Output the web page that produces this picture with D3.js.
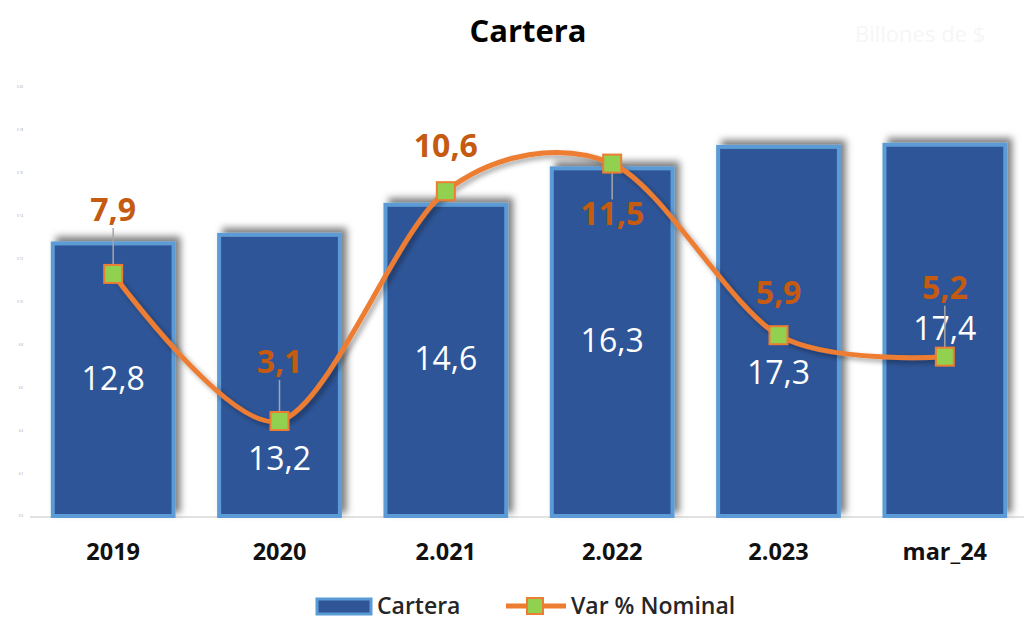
<!DOCTYPE html>
<html>
<head>
<meta charset="utf-8">
<script src="https://cdn.jsdelivr.net/npm/d3@7"></script>
<style>
  body { margin: 0; background: #fff; }
  text { font-family: "Open Sans", "DejaVu Sans", sans-serif; }
</style>
</head>
<body>
<div id="chart"></div>
<script>
// data
const categories = ["2019", "2020", "2.021", "2.022", "2.023", "mar_24"];
const cartera = [12.8, 13.2, 14.6, 16.3, 17.3, 17.4];
const varNominal = [7.9, 3.1, 10.6, 11.5, 5.9, 5.2];
const leftTicks = [0, 2, 4, 6, 8, 10, 12, 14, 16, 18, 20];

// label layout: offset of the orange labels from their marker,
// and which bar labels were pushed under the marker
const varLabelDy = [-64, -59, -45, 50, -42, -69];
const barLabelUnder = [false, true, false, false, true, false];

const width = 1024, height = 622;
const margin = {top: 87, right: -4, bottom: 106, left: 30};

const svg = d3.select("#chart").append("svg")
    .attr("width", width).attr("height", height);

const defs = svg.append("defs");
const shadow = defs.append("filter").attr("id", "shadow")
    .attr("x", "-20%").attr("y", "-20%").attr("width", "140%").attr("height", "140%");
shadow.append("feDropShadow")
    .attr("dx", 5).attr("dy", -5).attr("stdDeviation", 3.5)
    .attr("flood-color", "#000").attr("flood-opacity", 0.5);
const lineShadow = defs.append("filter").attr("id", "lineShadow")
    .attr("x", "-10%").attr("y", "-20%").attr("width", "120%").attr("height", "140%");
lineShadow.append("feDropShadow")
    .attr("dx", 3).attr("dy", 3).attr("stdDeviation", 2.5)
    .attr("flood-color", "#000").attr("flood-opacity", 0.35);

const x = d3.scaleBand()
    .domain(categories)
    .range([margin.left, width - margin.right])
    .paddingInner(0.25).paddingOuter(0.125);

const y = d3.scaleLinear().domain([0, 20]).range([height - margin.bottom, margin.top]);
const y2 = d3.scaleLinear().domain([0, 14]).range([height - margin.bottom, margin.top]);

// title
svg.append("text")
    .attr("x", 528).attr("y", 42)
    .attr("text-anchor", "middle")
    .style("font-size", "31px").style("font-weight", "bold").style("fill", "#000")
    .text("Cartera");
svg.append("text")
    .attr("x", 855).attr("y", 42)
    .style("font-size", "22px").style("fill", "#f6f6f6")
    .text("Billones de $");

// faint left axis
const yAxis = svg.append("g")
    .attr("transform", `translate(${margin.left - 4},0)`)
    .call(d3.axisLeft(y).tickValues(leftTicks).tickSize(0).tickFormat(d => "$ " + d));
yAxis.select(".domain").remove();
yAxis.selectAll("text").style("font-size", "3px").style("fill", "#999");

// baseline
svg.append("line")
    .attr("x1", margin.left).attr("x2", width)
    .attr("y1", y(0) + 1).attr("y2", y(0) + 1)
    .style("stroke", "#d9d9d9").style("stroke-width", 1.5);

// bars
svg.append("g").selectAll("rect")
    .data(cartera)
    .join("rect")
    .attr("x", (d, i) => x(categories[i]) + 2)
    .attr("y", d => y(d) + 2)
    .attr("width", x.bandwidth() - 4)
    .attr("height", d => y(0) - y(d) - 2)
    .style("fill", "#2F5597")
    .style("stroke", "#5B9BD5")
    .style("stroke-width", 4)
    .attr("filter", "url(#shadow)");

// x labels
svg.append("g").selectAll("text")
    .data(categories)
    .join("text")
    .attr("x", d => x(d) + x.bandwidth() / 2)
    .attr("y", 560)
    .attr("text-anchor", "middle")
    .style("font-size", "23.5px").style("font-weight", "bold").style("fill", "#111")
    .text(d => d);

const cx = i => x(categories[i]) + x.bandwidth() / 2;
const fmt = v => d3.format(".1f")(v).replace(".", ",");

// bar value labels
svg.append("g").selectAll("text")
    .data(cartera)
    .join("text")
    .attr("x", (d, i) => cx(i))
    .attr("y", (d, i) => {
        const c = barLabelUnder[i] ? y2(varNominal[i]) + 38 : (y(0) + y(d)) / 2;
        return c + 11;
    })
    .attr("text-anchor", "middle")
    .style("font-size", "32px").style("fill", "#fff")
    .text(d => fmt(d));

// leader lines (only for labels placed far from their marker)
const leaders = varNominal.map((v, i) => ({v, i, dy: varLabelDy[i]}))
    .filter(d => Math.abs(d.dy) > 48);
svg.append("g").selectAll("line")
    .data(leaders)
    .join("line")
    .attr("x1", d => cx(d.i)).attr("x2", d => cx(d.i))
    .attr("y1", d => y2(d.v) + (d.dy < 0 ? d.dy + 18 : d.dy - 14))
    .attr("y2", d => y2(d.v))
    .style("stroke", "#a6a6a6").style("stroke-width", 1.5);

// line
const line = d3.line()
    .x((d, i) => cx(i))
    .y(d => y2(d))
    .curve(d3.curveCardinal.tension(0.1));
svg.append("path")
    .datum(varNominal)
    .attr("d", line)
    .style("fill", "none")
    .style("stroke", "#ED7D31")
    .style("stroke-width", 5)
    .attr("filter", "url(#lineShadow)");

// markers
svg.append("g").selectAll("rect")
    .data(varNominal)
    .join("rect")
    .attr("x", (d, i) => cx(i) - 9)
    .attr("y", d => y2(d) - 9)
    .attr("width", 18).attr("height", 18)
    .style("fill", "#92D050")
    .style("stroke", "#ED7D31")
    .style("stroke-width", 2);

// orange value labels
svg.append("g").selectAll("text")
    .data(varNominal)
    .join("text")
    .attr("x", (d, i) => cx(i))
    .attr("y", (d, i) => y2(d) + varLabelDy[i] + 11)
    .attr("text-anchor", "middle")
    .style("font-size", "32px").style("font-weight", "bold").style("fill", "#C55A11")
    .text(d => fmt(d));

// legend
const legend = svg.append("g");
legend.append("rect")
    .attr("x", 317).attr("y", 599).attr("width", 54).attr("height", 15)
    .style("fill", "#2F5597").style("stroke", "#5B9BD5").style("stroke-width", 3);
legend.append("text")
    .attr("x", 377).attr("y", 614)
    .style("font-size", "23px").style("font-weight", 600).style("fill", "#262626")
    .text("Cartera");
legend.append("line")
    .attr("x1", 506).attr("x2", 566).attr("y1", 606).attr("y2", 606)
    .style("stroke", "#ED7D31").style("stroke-width", 5);
legend.append("rect")
    .attr("x", 527).attr("y", 598).attr("width", 16).attr("height", 16)
    .style("fill", "#92D050").style("stroke", "#ED7D31").style("stroke-width", 2);
legend.append("text")
    .attr("x", 571).attr("y", 614)
    .style("font-size", "23px").style("font-weight", 600).style("fill", "#262626")
    .text("Var % Nominal");
</script>
</body>
</html>
